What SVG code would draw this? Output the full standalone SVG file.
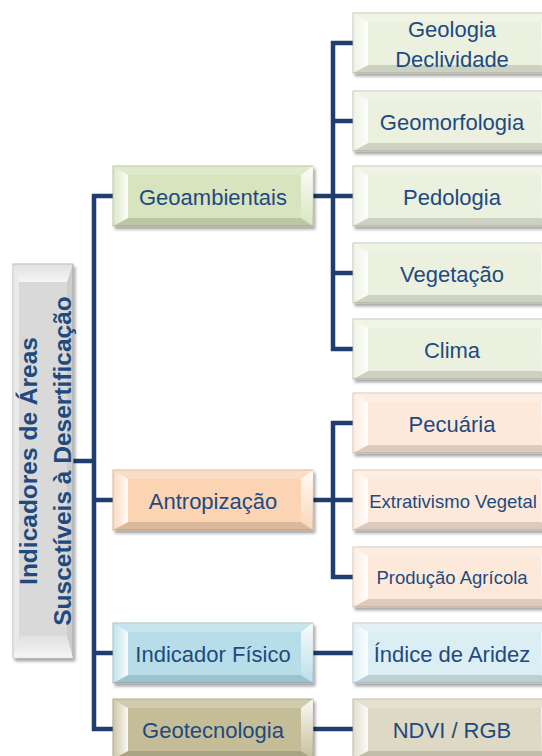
<svg xmlns="http://www.w3.org/2000/svg" xmlns:xlink="http://www.w3.org/1999/xlink" width="542" height="756" viewBox="0 0 542 756">
<style>
.lbl{font-family:"Liberation Sans",Arial,sans-serif;font-size:22px;fill:#1f4a80;text-anchor:middle}
.sm{font-size:18.5px}
.root{font-family:"Liberation Sans",Arial,sans-serif;font-size:24.5px;font-weight:bold;fill:#1f4a80;text-anchor:middle}
.box{filter:url(#sh);stroke-width:0.8}
.g1{fill:#d7e4bd;stroke:#a9b48f}
.g2{fill:#ebf1de;stroke:#b6bcaa}
.o1{fill:#fbd4b4;stroke:#c8a88c}
.o2{fill:#fde9d9;stroke:#c9b8ac}
.b1{fill:#b7dee8;stroke:#8fb0b8}
.b2{fill:#dbeef4;stroke:#aabcc2}
.t1{fill:#c4bd97;stroke:#9a9475}
.t2{fill:#ddd9c4;stroke:#ada997}
.gr{fill:#d9d9d9;stroke:#a6a6a6}
.con{fill:none;stroke:#1f3d6e;stroke-width:4.5;stroke-linejoin:miter;stroke-linecap:butt}
</style>
<defs>
<filter id="sh" x="-10%" y="-10%" width="125%" height="130%">
<feDropShadow dx="2" dy="3" stdDeviation="1.5" flood-color="#000" flood-opacity="0.35"/>
</filter>
<linearGradient id="gl" x1="0" y1="0" x2="1" y2="0">
<stop offset="0" stop-color="#fff" stop-opacity="0.15"/>
<stop offset="1" stop-color="#fff" stop-opacity="0.9"/>
</linearGradient>
<linearGradient id="gr" x1="0" y1="0" x2="0" y2="1">
<stop offset="0" stop-color="#fff" stop-opacity="0.9"/>
<stop offset="1" stop-color="#fff" stop-opacity="0.05"/>
</linearGradient>
<linearGradient id="gt" x1="0" y1="0" x2="0" y2="1">
<stop offset="0" stop-color="#fff" stop-opacity="0.2"/>
<stop offset="1" stop-color="#fff" stop-opacity="0.75"/>
</linearGradient>
<g id="bev">
<polygon points="0,0 200,0 188,9 15,9" fill="#fff" fill-opacity="0.22"/>
<polygon points="0,60 200,60 188,52 15,52" fill="#000" fill-opacity="0.13"/>
<polygon points="0,0 15,9 15,52 0,60" fill="url(#gl)"/>
<polygon points="200,0 200,60 188,52 188,9" fill="url(#gr)"/>
</g>
</defs>

<g id="connectors">
<path class="con" d="M73,461 H94"/>
<path class="con" d="M113,196 H94 V729 H113"/>
<path class="con" d="M94,500 H113 M94,653 H113"/>
<path class="con" d="M353,43 H333 V349 H353"/>
<path class="con" d="M313,196 H353 M333,121 H353 M333,273 H353"/>
<path class="con" d="M353,423 H333 V577 H353"/>
<path class="con" d="M313,500 H353"/>
<path class="con" d="M313,653 H353"/>
<path class="con" d="M313,729 H353"/>
</g>

<g id="root">
<rect class="box gr" x="13" y="264" width="60" height="394"/>
<polygon points="13,264 73,264 67,282 19,282" fill="url(#gt)"/>
<polygon points="13,658 73,658 67,636 19,636" fill="url(#gt)"/>
<polygon points="13,264 19,282 19,636 13,658" fill="#fff" fill-opacity="0.45"/>
<polygon points="73,264 73,658 67,636 67,282" fill="#000" fill-opacity="0.06"/>
<text class="root" transform="translate(36.5,461) rotate(-90)">Indicadores de Áreas</text>
<text class="root" transform="translate(70.5,461) rotate(-90)">Suscetíveis à Desertificação</text>
</g>

<g id="geoambientais">
<rect class="box g1" x="113" y="166" width="200" height="60"/>
<use xlink:href="#bev" x="113" y="166"/>
<text class="lbl" x="213" y="205">Geoambientais</text>
</g>
<g id="antropizacao">
<rect class="box o1" x="113" y="470" width="200" height="60"/>
<use xlink:href="#bev" x="113" y="470"/>
<text class="lbl" x="213" y="509">Antropização</text>
</g>
<g id="indicador-fisico">
<rect class="box b1" x="113" y="623" width="200" height="60"/>
<use xlink:href="#bev" x="113" y="623"/>
<text class="lbl" x="213" y="662">Indicador Físico</text>
</g>
<g id="geotecnologia">
<rect class="box t1" x="113" y="699" width="200" height="60"/>
<use xlink:href="#bev" x="113" y="699"/>
<text class="lbl" x="213" y="738">Geotecnologia</text>
</g>

<g id="geologia">
<rect class="box g2" x="353" y="13" width="200" height="60"/>
<use xlink:href="#bev" x="353" y="13"/>
<text class="lbl" x="452" y="37">Geologia</text>
<text class="lbl" x="452" y="67">Declividade</text>
</g>
<g id="geomorfologia">
<rect class="box g2" x="353" y="91" width="200" height="60"/>
<use xlink:href="#bev" x="353" y="91"/>
<text class="lbl" x="452" y="130">Geomorfologia</text>
</g>
<g id="pedologia">
<rect class="box g2" x="353" y="166" width="200" height="60"/>
<use xlink:href="#bev" x="353" y="166"/>
<text class="lbl" x="452" y="205">Pedologia</text>
</g>
<g id="vegetacao">
<rect class="box g2" x="353" y="243" width="200" height="60"/>
<use xlink:href="#bev" x="353" y="243"/>
<text class="lbl" x="452" y="282">Vegetação</text>
</g>
<g id="clima">
<rect class="box g2" x="353" y="319" width="200" height="60"/>
<use xlink:href="#bev" x="353" y="319"/>
<text class="lbl" x="452" y="358">Clima</text>
</g>

<g id="pecuaria">
<rect class="box o2" x="353" y="393" width="200" height="60"/>
<use xlink:href="#bev" x="353" y="393"/>
<text class="lbl" x="452" y="432">Pecuária</text>
</g>
<g id="extrativismo">
<rect class="box o2" x="353" y="470" width="200" height="60"/>
<use xlink:href="#bev" x="353" y="470"/>
<text class="lbl sm" x="453" y="508">Extrativismo Vegetal</text>
</g>
<g id="producao">
<rect class="box o2" x="353" y="547" width="200" height="60"/>
<use xlink:href="#bev" x="353" y="547"/>
<text class="lbl sm" x="452" y="584">Produção Agrícola</text>
</g>

<g id="indice-aridez">
<rect class="box b2" x="353" y="623" width="200" height="60"/>
<use xlink:href="#bev" x="353" y="623"/>
<text class="lbl" x="452" y="662">Índice de Aridez</text>
</g>
<g id="ndvi">
<rect class="box t2" x="353" y="699" width="200" height="60"/>
<use xlink:href="#bev" x="353" y="699"/>
<text class="lbl" x="452" y="738">NDVI / RGB</text>
</g>
</svg>
